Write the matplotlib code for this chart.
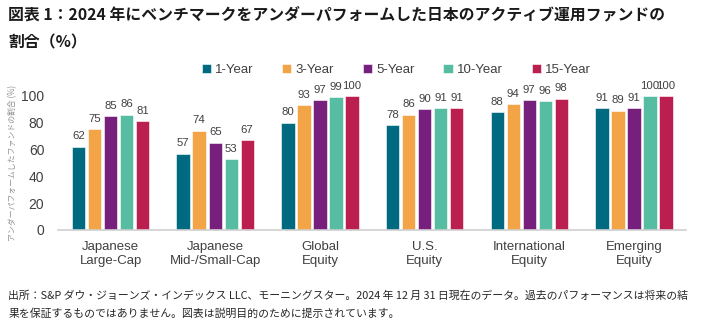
import numpy as np
import matplotlib
matplotlib.use('Agg')
import matplotlib.pyplot as plt

plt.rcParams['font.family'] = ['Noto Sans CJK JP', 'DejaVu Sans']

# データ
categories = ['Japanese\nLarge-Cap', 'Japanese\nMid-/Small-Cap', 'Global\nEquity',
              'U.S.\nEquity', 'International\nEquity', 'Emerging\nEquity']
series_names = ['1-Year', '3-Year', '5-Year', '10-Year', '15-Year']
y1 = [62, 57, 80, 78, 88, 91]
y3 = [75, 74, 93, 86, 94, 89]
y5 = [85, 65, 97, 90, 97, 91]
y10 = [86, 53, 99, 91, 96, 100]
y15 = [81, 67, 100, 91, 98, 100]
colors = ['#006B80', '#F2A447', '#761F7D', '#57BDA2', '#BA1F4F']

fig = plt.figure(figsize=(7.01, 3.22), dpi=100)
ax = fig.add_axes([0.083, 0.286, 0.896, 0.416])

x = np.arange(len(categories))
step = 0.153
width = 0.128
txt = '#404040'
for i, (name, vals) in enumerate(zip(series_names, [y1, y3, y5, y10, y15])):
    pos = x + (i - 2) * step
    ax.bar(pos, vals, width, color=colors[i], label=name, edgecolor='white', linewidth=0.4)
    for p, v in zip(pos, vals):
        ax.text(p, v + 4, str(v), ha='center', va='bottom', fontsize=8.2,
                color=txt, family='Liberation Sans')

ax.set_xlim(-0.5, len(categories) - 0.5)
ax.set_ylim(0, 100)
ax.set_yticks([0, 20, 40, 60, 80, 100])
ax.set_xticks(x)
ax.set_xticklabels(categories, fontsize=9.5, color=txt, family='Liberation Sans', linespacing=1.25)
ax.tick_params(axis='y', labelsize=10, colors=txt, length=0, pad=10)
ax.tick_params(axis='x', length=0, pad=8)
for lab in ax.get_yticklabels():
    lab.set_family('Liberation Sans')
for s in ['top', 'right', 'left']:
    ax.spines[s].set_visible(False)
ax.spines['bottom'].set_color('#D0D0D0')
ax.spines['bottom'].set_linewidth(1.2)

ax.set_ylabel('アンダーパフォームしたファンドの割合 (%)', fontsize=5.7, color='#909090', labelpad=3)

leg = fig.legend(loc='center', bbox_to_anchor=(0.565, 0.782), ncol=5, frameon=False,
                 handlelength=0.7, handleheight=0.7, handletextpad=0.3,
                 columnspacing=2.2, prop={'family': 'Liberation Sans', 'size': 9.5})
for t in leg.get_texts():
    t.set_color(txt)

fig.text(0.012, 0.955, '図表 1：2024 年にベンチマークをアンダーパフォームした日本のアクティブ運用ファンドの',
         fontsize=11.4, fontweight='bold', color='#1a1a1a', va='center')
fig.text(0.012, 0.868, '割合（%）', fontsize=11.4, fontweight='bold', color='#1a1a1a', va='center')

fig.text(0.012, 0.083, '出所：S&P ダウ・ジョーンズ・インデックス LLC、モーニングスター。2024 年 12 月 31 日現在のデータ。過去のパフォーマンスは将来の結',
         fontsize=7.8, color='#262626', va='center')
fig.text(0.012, 0.027, '果を保証するものではありません。図表は説明目的のために提示されています。',
         fontsize=7.8, color='#262626', va='center')

fig.savefig('out.png', dpi=100)
